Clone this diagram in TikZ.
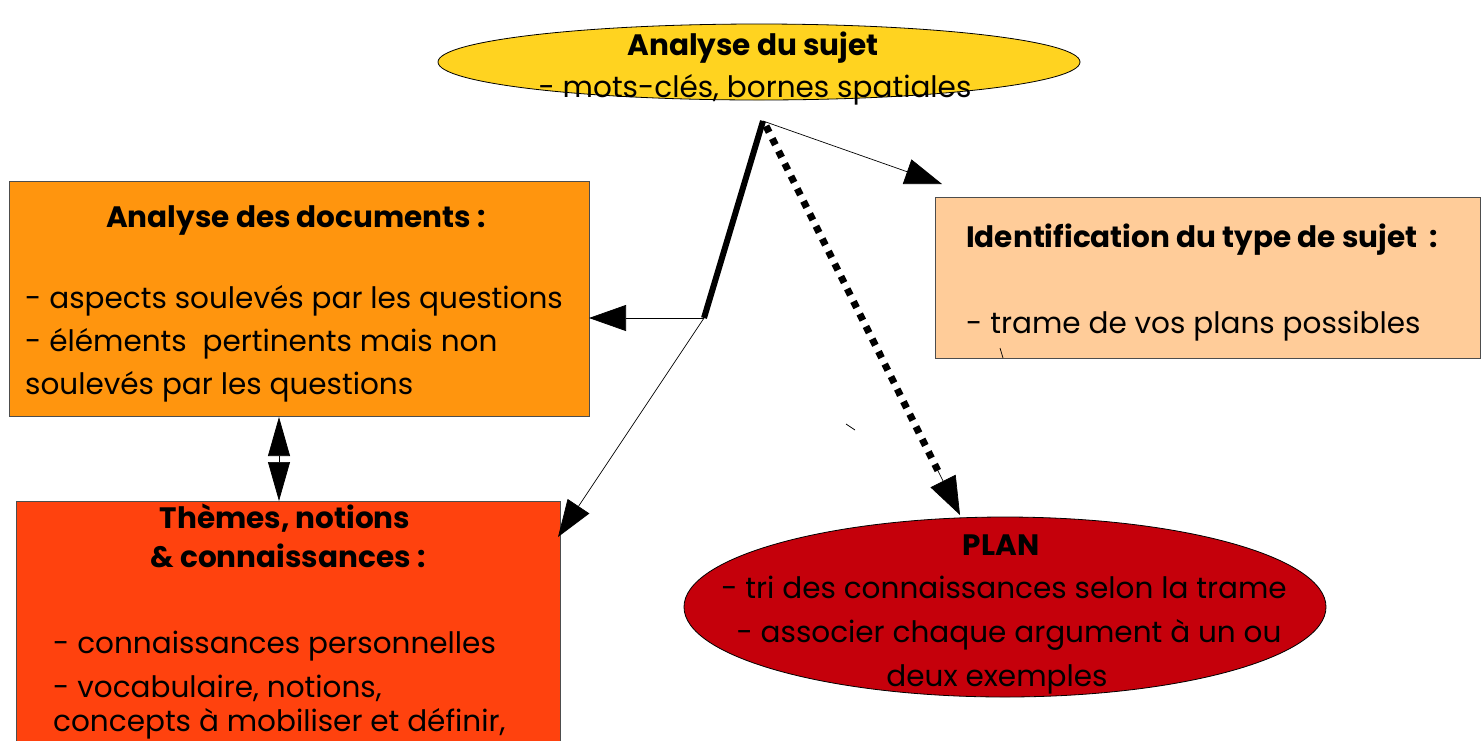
\documentclass[tikz,border=0pt]{standalone}
\usepackage{fontspec}
\setmainfont{Poppins}
\usetikzlibrary{arrows.meta,shapes.geometric,calc}
\definecolor{cgold}{HTML}{FFD320}
\definecolor{corange}{HTML}{FF950E}
\definecolor{cpeach}{HTML}{FFCC99}
\definecolor{cred}{HTML}{FF420E}
\definecolor{cplan}{HTML}{C5000B}
\definecolor{cborder}{HTML}{4D4D4D}
\begin{document}
\begin{tikzpicture}[x=1pt,y=-1pt,
  box/.style={draw=cborder,line width=0.8pt,inner sep=0pt,anchor=north west},
  oval/.style={ellipse,draw=black,line width=0.8pt,inner sep=0pt},
  txt/.style={inner sep=0pt,anchor=base,font=\fontsize{29.5}{40}\selectfont},
  ttl/.style={inner sep=0pt,anchor=base,font=\fontsize{29.5}{40}\selectfont\bfseries},
  tip/.style={-{Triangle[length=37pt,width=26pt]}},
  thin/.style={line width=0.7pt},
]
\useasboundingbox (0,0) rectangle (1483,740);
\clip (0,0) rectangle (1483,740);

% shapes
\node[oval,fill=cgold,minimum width=642pt,minimum height=76pt] (sujet) at (759,62) {};
\node[box,fill=corange,minimum width=580pt,minimum height=235pt] (docs) at (9,181) {};
\node[box,fill=cpeach,minimum width=545pt,minimum height=161pt] (ident) at (935,197) {};
\node[box,fill=cred,minimum width=544pt,minimum height=260pt] (themes) at (16,501) {};
\node[oval,fill=cplan,minimum width=642pt,minimum height=180pt] (plan) at (1005,607) {};

% texts
\node[ttl] (t1) at (753,55) {Analyse du sujet};
\node[txt] (t2) at (755,97) {- mots-clés, bornes spatiales};

\node[ttl] (t3) at (296,227) {Analyse des documents :};
\node[txt,anchor=base west] (t4) at (25,308) {- aspects soulevés par les questions};
\node[txt,anchor=base west] (t5) at (25,351) {- éléments~ pertinents mais non};
\node[txt,anchor=base west] (t6) at (25,394) {soulevés par les questions};

\node[ttl,anchor=base west] (t7) at (966,247) {Identification du type de sujet~~:};
\node[txt,anchor=base west] (t8) at (966,333) {- trame de vos plans possibles};

\node[ttl] (t9) at (285,528) {Thèmes, notions};
\node[ttl] (t10) at (288,567) {\& connaissances :};
\node[txt,anchor=base west] (t11) at (53,653) {- connaissances personnelles};
\node[txt,anchor=base west] (t12) at (53,697) {- vocabulaire, notions,};
\node[txt,anchor=base west] (t13) at (53,731) {concepts à mobiliser et définir,};

\node[ttl] (t14) at (1001,555) {PLAN};
\node[txt] (t15) at (1004,598) {- tri des connaissances selon la trame};
\node[txt] (t16) at (1009,642) {- associer chaque argument à un ou};
\node[txt] (t17) at (997,686) {deux exemples};

% connector points
\coordinate (top) at (763,121);
\coordinate (junc) at (704,318);
\coordinate (docsIn) at (589,318);
\coordinate (themesIn) at (558,537);
\coordinate (identIn) at (942,184);
\coordinate (dotStart) at (766,126);
\coordinate (planIn) at (960,515);

\draw[line width=6pt] (top) -- (junc);
\draw[thin,tip] (junc) -- (docsIn);
\draw[thin,tip] (junc) -- (themesIn);
\draw[thin,tip] (top) -- (identIn);
\draw[line width=7pt,dash pattern=on 7pt off 7pt] (dotStart) -- ($(dotStart)!0.9!(planIn)$);
\draw[line width=0.7pt,-{Triangle[length=38pt,width=28pt]}] ($(dotStart)!0.88!(planIn)$) -- (planIn);

% double arrow between boxes
\coordinate (dA) at (279,417);
\coordinate (dB) at (279,501);
\draw[thin,{Triangle[length=39pt,width=22pt]}-{Triangle[length=39pt,width=22pt]}] (dA) -- (dB);

% stray marks
\coordinate (m1a) at (1000,348);
\coordinate (m1b) at (1003,358);
\draw[thin] (m1a) -- (m1b);
\coordinate (m2a) at (846,424);
\coordinate (m2b) at (855,430);
\draw[thin] (m2a) -- (m2b);
\end{tikzpicture}
\end{document}
